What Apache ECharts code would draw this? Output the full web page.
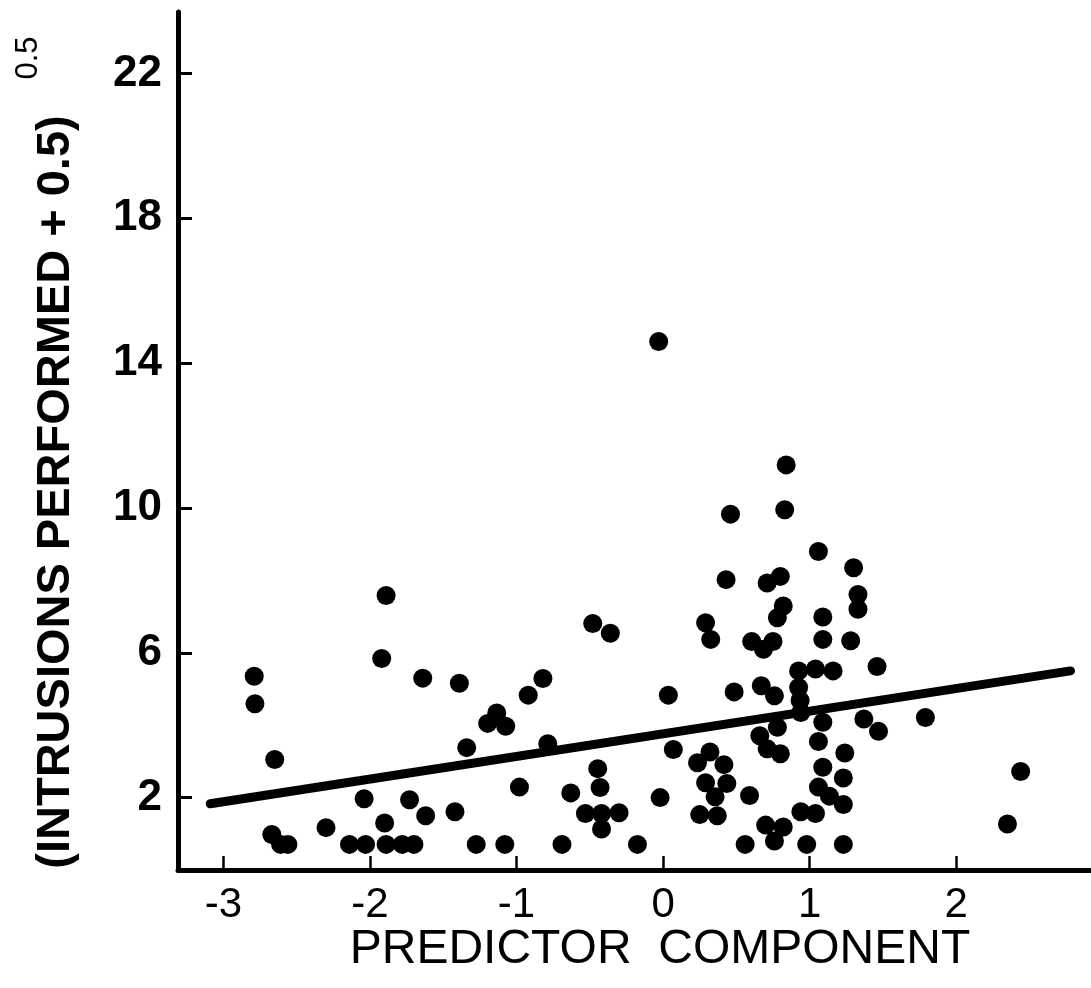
<!DOCTYPE html>
<html>
<head>
<meta charset="utf-8">
<script src="https://cdn.jsdelivr.net/npm/echarts@6/dist/echarts.min.js"></script>
<style>
html,body{margin:0;padding:0;background:#fff;}
#chart{width:1091px;height:988px;}
</style>
</head>
<body>
<div id="chart"></div>
<script>
// Scatter points: predictor component (x) and (intrusions performed + 0.5)^0.5 (y)
const pointX = [-2.79,-2.785,-2.65,-2.67,-2.61,-2.56,-2.30,-2.14,-2.04,-2.03,-1.92,-1.89,-1.90,-1.89,-1.78,-1.70,-1.73,-1.64,-1.62,-1.39,
  -1.42,-1.34,-1.275,-1.197,-1.135,-1.074,-1.08,-0.98,-0.92,-0.82,-0.787,-0.69,-0.63,-0.53,-0.48,-0.446,-0.43,-0.42,-0.42,-0.36,
  -0.30,-0.175,-0.03,-0.02,0.036,0.07,0.235,0.25,0.29,0.29,0.32,0.325,0.355,0.37,0.415,0.43,0.435,0.46,0.485,0.56,
  0.59,0.605,0.66,0.67,0.685,0.70,0.71,0.71,0.75,0.76,0.76,0.78,0.78,0.80,0.80,0.82,0.82,0.83,0.84,0.925,
  0.925,0.935,0.94,0.94,0.98,1.04,1.04,1.06,1.06,1.06,1.09,1.09,1.09,1.09,1.135,1.16,1.23,1.23,1.23,1.24,
  1.28,1.30,1.33,1.33,1.37,1.46,1.47,1.79,2.35,2.44];
const pointY = [5.35,4.59,3.05,0.98,0.707,0.707,1.17,0.707,1.97,0.707,5.84,7.58,1.30,0.707,0.707,0.707,1.94,5.30,1.50,5.16,
  1.61,3.38,0.707,4.05,4.34,3.97,0.707,2.29,4.83,5.29,3.49,0.707,2.13,1.56,6.81,2.80,2.28,1.56,1.13,6.54,
  1.58,0.707,14.6,2.0,4.83,3.33,2.96,1.53,6.83,2.41,3.26,6.37,2.02,1.50,2.91,8.02,2.39,9.83,4.92,0.707,
  2.06,6.31,3.71,5.09,6.10,1.24,7.93,3.35,6.31,4.81,0.80,6.97,3.94,8.11,3.21,7.29,1.19,9.95,11.19,5.50,
  5.04,4.68,4.35,1.61,0.707,5.55,1.56,8.80,3.55,2.29,6.99,6.37,4.08,2.84,2.04,5.50,2.54,1.81,0.707,3.23,
  6.33,8.35,7.61,7.20,4.17,5.62,3.83,4.21,1.27,2.72];
// Fitted regression line end points
const lineX = [-3.09, 2.78];
const lineY = [1.83, 5.50];
// Tick values and labels
const xTicks = [-3, -2, -1, 0, 1, 2];
const xTickLabels = ['-3', '-2', '-1', '0', '1', '2'];
const yTicks = [2, 6, 10, 14, 18, 22];
const yTickLabels = ['2', '6', '10', '14', '18', '22'];
const xTitle = 'PREDICTOR  COMPONENT';
const yTitle = '(INTRUSIONS PERFORMED + 0.5)';
const yTitleExp = '0.5';

const scatterData = pointX.map((x, i) => [x, pointY[i]]);
const lineData = lineX.map((x, i) => [x, lineY[i]]);

const chart = echarts.init(document.getElementById('chart'), null, {renderer: 'canvas'});
chart.setOption({
  animation: false,
  backgroundColor: '#ffffff',
  grid: {left: 178, right: 0, top: 12, bottom: 118, containLabel: false},
  xAxis: {
    type: 'value', min: -3.31, max: 2.92,
    axisLine: {show: true, onZero: false, lineStyle: {color: '#000', width: 5}},
    axisTick: {show: true, inside: true, length: 14, lineStyle: {color: '#000', width: 2.5}, customValues: xTicks},
    axisLabel: {
      show: true, margin: 14, color: '#000', fontSize: 42, fontFamily: 'Liberation Sans Narrow, Liberation Sans, Arial', fontWeight: 'normal',
      customValues: xTicks,
      formatter: v => { const i = xTicks.findIndex(t => Math.abs(t - v) < 1e-6); return i >= 0 ? xTickLabels[i] : ''; }
    },
    splitLine: {show: false}
  },
  yAxis: {
    type: 'value', min: 0, max: 23.7,
    axisLine: {show: true, onZero: false, lineStyle: {color: '#000', width: 5}},
    axisTick: {show: true, inside: true, length: 14, lineStyle: {color: '#000', width: 3}, customValues: yTicks},
    axisLabel: {
      show: true, margin: 16, color: '#000', fontSize: 44, fontFamily: 'Liberation Sans, Arial', fontWeight: 'bold',
      customValues: yTicks,
      formatter: v => { const i = yTicks.findIndex(t => Math.abs(t - v) < 1e-6); return i >= 0 ? yTickLabels[i] : ''; }
    },
    splitLine: {show: false}
  },
  graphic: [
    {type: 'text', x: 56, y: 492, rotation: Math.PI / 2,
      style: {text: yTitle, fill: '#000', font: 'bold 47px "Liberation Sans", Arial', align: 'center', verticalAlign: 'middle'}},
    {type: 'text', x: 28, y: 58, rotation: Math.PI / 2,
      style: {text: yTitleExp, fill: '#000', font: '31px "Liberation Sans", Arial', align: 'center', verticalAlign: 'middle'}},
    {type: 'text', x: 660, y: 950,
      style: {text: xTitle, fill: '#000', font: '48px "Liberation Sans", Arial', align: 'center', verticalAlign: 'middle'}}
  ],
  series: [
    {type: 'scatter', data: scatterData, symbol: 'circle', symbolSize: 19, itemStyle: {color: '#000', opacity: 1}, z: 3},
    {type: 'line', data: lineData, showSymbol: false, symbol: 'none', lineStyle: {color: '#000', width: 9, cap: 'round'}, z: 2}
  ]
});
</script>
</body>
</html>
